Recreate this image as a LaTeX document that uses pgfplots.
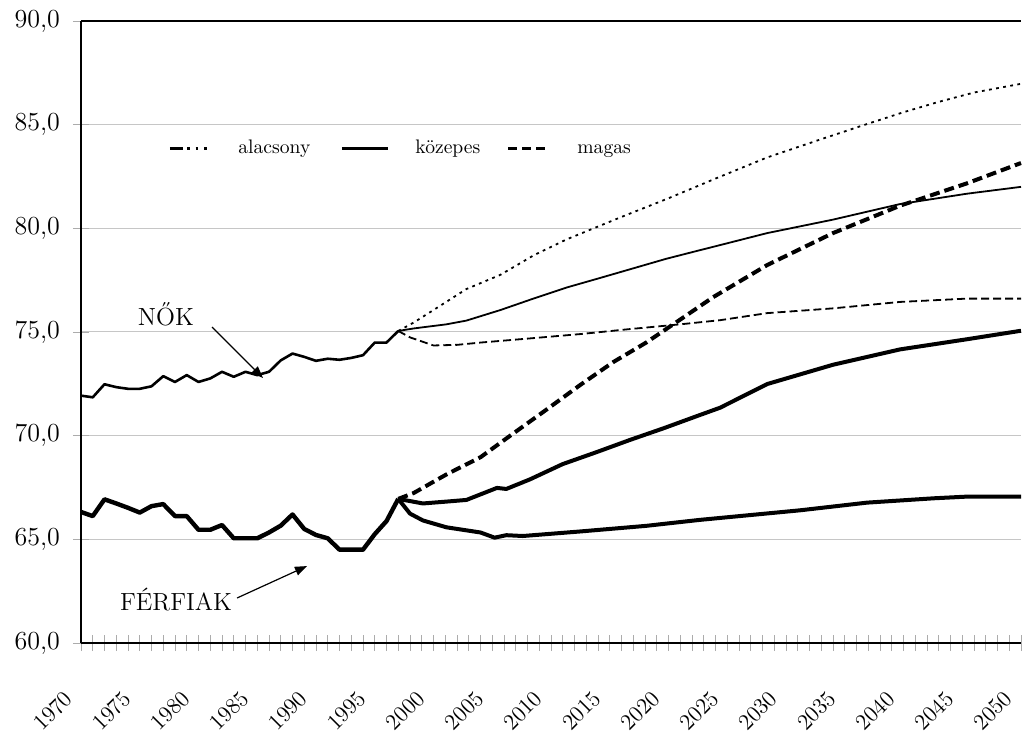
\documentclass[border=0pt]{standalone}
\usepackage{fontspec}
\usepackage{pgfplots}
\pgfplotsset{compat=1.18}
\usetikzlibrary{arrows.meta}

% line styles of the two sexes and three variants
\tikzset{
  womenhist/.style={black, line width=1.3pt, line join=round},
  menhist/.style={black, line width=2.2pt, line join=round},
  womenlow/.style={black, line width=0.9pt, dash pattern=on 1.4pt off 2.2pt},
  womenmid/.style={black, line width=0.9pt},
  womenhigh/.style={black, line width=0.9pt, dash pattern=on 4pt off 2pt},
  menlow/.style={black, line width=2pt, line join=round},
  menmid/.style={black, line width=2pt, line join=round},
  menhigh/.style={black, line width=2pt, dash pattern=on 5pt off 2.5pt},
}

\begin{document}
\begin{tikzpicture}
\begin{axis}[
  name=ax,
  scale only axis, width=470pt, height=311pt,
  xmin=1970, xmax=2050, ymin=60, ymax=90,
  axis x line*=box, axis y line*=left,
  axis line style={black, line width=0.8pt},
  xtick={1970,1975,...,2050},
  minor x tick num=4,
  ytick={60,65,...,90},
  xtick pos=left, ytick pos=left,
  tick align=center,
  major tick length=8pt, minor tick length=8pt,
  every tick/.style={gray!65, line width=0.4pt},
  ymajorgrids,
  major grid style={gray!45, line width=0.5pt},
  /pgf/number format/assume math mode=true,
  yticklabel style={font=\fontsize{13}{15}\selectfont,
    /pgf/number format/fixed, /pgf/number format/fixed zerofill,
    /pgf/number format/precision=1, /pgf/number format/use comma, xshift=-3pt},
  xticklabel style={font=\fontsize{11.3}{13}\selectfont,
    /pgf/number format/1000 sep={}, xshift=-9pt, yshift=-19pt,
    rotate=45, anchor=north east, inner sep=0pt},
  clip=false,
]

% NŐK, observed
\addplot[womenhist] coordinates {
 (1970,71.93)(1971,71.85)(1972,72.48)(1973,72.34)(1974,72.26)(1975,72.26)
 (1976,72.38)(1977,72.87)(1978,72.59)(1979,72.92)(1980,72.59)(1981,72.76)
 (1982,73.08)(1983,72.84)(1984,73.08)(1985,72.92)(1986,73.08)(1987,73.63)
 (1988,73.96)(1989,73.80)(1990,73.61)(1991,73.71)(1992,73.66)(1993,73.75)
 (1994,73.88)(1995,74.49)(1996,74.49)(1997,75.05)};

% FÉRFIAK, observed
\addplot[menhist] coordinates {
 (1970,66.32)(1971,66.12)(1972,66.93)(1973,66.73)(1974,66.52)(1975,66.29)
 (1976,66.60)(1977,66.70)(1978,66.12)(1979,66.12)(1980,65.46)(1981,65.46)
 (1982,65.69)(1983,65.05)(1984,65.05)(1985,65.05)(1986,65.33)(1987,65.66)
 (1988,66.20)(1989,65.50)(1990,65.21)(1991,65.05)(1992,64.50)(1993,64.50)
 (1994,64.50)(1995,65.25)(1996,65.88)(1997,66.95)};

% NŐK, projections
\addplot[womenlow] coordinates {
 (1997,75.05)(1998.3,75.45)(2000,76.06)(2002.8,77.07)(2005.7,77.76)
 (2008.5,78.69)(2011.3,79.46)(2016,80.55)(2020,81.45)(2024,82.4)
 (2028.4,83.42)(2033,84.3)(2037,85.05)(2040,85.6)(2043,86.1)
 (2046,86.55)(2050,86.97)};
\addplot[womenmid] coordinates {
 (1997,75.05)(1998.3,75.17)(2001.1,75.37)(2002.8,75.55)(2005.7,76.06)
 (2008.5,76.61)(2011.3,77.14)(2014.2,77.61)(2017,78.07)(2019.8,78.53)
 (2022.7,78.95)(2024.1,79.15)(2028.4,79.77)(2034,80.42)(2039.7,81.17)
 (2045.4,81.67)(2050,82.0)};
\addplot[womenhigh] coordinates {
 (1997,75.05)(1998,74.74)(2000,74.35)(2002,74.38)(2004,74.49)(2008.2,74.69)
 (2012.5,74.90)(2016.7,75.14)(2021,75.37)(2024.4,75.57)(2028.4,75.91)
 (2034,76.14)(2039.7,76.45)(2045.4,76.61)(2050,76.61)};

% FÉRFIAK, projections
\addplot[menhigh] coordinates {
 (1997,66.95)(1998.3,67.23)(2001.1,68.13)(2004,68.96)(2006.8,70.11)
 (2009.6,71.25)(2012.5,72.45)(2015.3,73.55)(2018.1,74.49)(2021,75.6)
 (2023.8,76.68)(2028.4,78.23)(2034,79.77)(2039.7,81.09)(2045.4,82.17)
 (2050,83.15)};
\addplot[menmid] coordinates {
 (1997,66.95)(1999.1,66.73)(2001.1,66.82)(2002.8,66.90)(2005.4,67.48)
 (2006.2,67.43)(2008.2,67.89)(2011,68.63)(2013.9,69.21)(2016.7,69.79)
 (2019.6,70.36)(2022.4,70.94)(2024.4,71.35)(2028.4,72.49)(2034,73.42)
 (2039.7,74.16)(2045.4,74.65)(2050,75.06)};
\addplot[menlow] coordinates {
 (1997,66.95)(1998,66.24)(1999.1,65.91)(2001.1,65.58)(2004,65.33)
 (2005.2,65.08)(2006.2,65.20)(2007.6,65.16)(2009.6,65.25)(2012.5,65.38)
 (2018.1,65.65)(2022.7,65.94)(2031.2,66.40)(2036.9,66.77)(2042.6,66.98)
 (2045.4,67.06)(2050,67.06)};

% key
\draw[black, line width=1.5pt, dash pattern=on 6.5pt off 2.2pt on 1.2pt off 3pt on 1.2pt off 3pt on 1.2pt off 30pt]
  (axis cs:1977.57,83.86) -- (axis cs:1980.7,83.86);
\node[anchor=base west, inner sep=0pt, font=\fontsize{9.8}{12}\selectfont]
  at (axis cs:1983.36,83.62) {alacsony};
\draw[black, line width=1.5pt] (axis cs:1992.21,83.86) -- (axis cs:1996.13,83.86);
\node[anchor=base west, inner sep=0pt, font=\fontsize{9.8}{12}\selectfont]
  at (axis cs:1998.43,83.62) {közepes};
\draw[black, line width=1.5pt, dash pattern=on 4.5pt off 2.5pt]
  (axis cs:2006.34,83.86) -- (axis cs:2009.49,83.86);
\node[anchor=base west, inner sep=0pt, font=\fontsize{9.8}{12}\selectfont]
  at (axis cs:2012.21,83.62) {magas};

% series labels
\node[font=\fontsize{12.4}{14}\selectfont] at (axis cs:1977.23,75.87) {NŐK};
\draw[black, line width=0.6pt, -{Triangle[length=6pt,width=4.5pt]}]
  (axis cs:1981.15,75.24) -- (axis cs:1985.49,72.78);
\node[font=\fontsize{12.4}{14}\selectfont] at (axis cs:1978.09,62.12) {FÉRFIAK};
\draw[black, line width=0.6pt, -{Triangle[length=6pt,width=4.5pt]}]
  (axis cs:1983.28,62.17) -- (axis cs:1989.23,63.71);
\end{axis}
\pgfresetboundingbox
\path[use as bounding box] ([xshift=-40.5pt,yshift=-45pt]ax.south west)
  rectangle ([xshift=0.5pt,yshift=10.5pt]ax.north east);
\end{tikzpicture}
\end{document}
